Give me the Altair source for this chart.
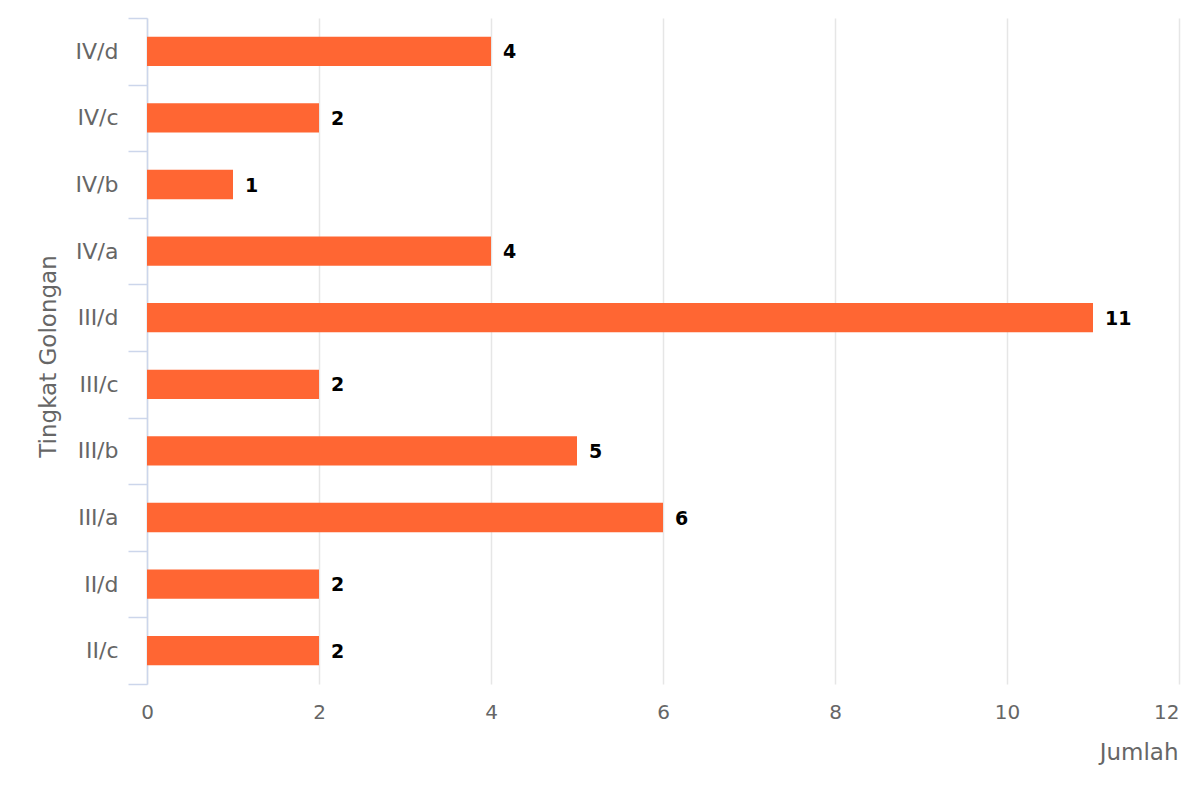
import altair as alt
import pandas as pd

categories = ["IV/d", "IV/c", "IV/b", "IV/a", "III/d", "III/c", "III/b", "III/a", "II/d", "II/c"]
values = [4, 2, 1, 4, 11, 2, 5, 6, 2, 2]
x_ticks = [0, 2, 4, 6, 8, 10, 12]

df = pd.DataFrame({"golongan": categories, "jumlah": values})

FONT = "DejaVu Sans"
W, H = 1032, 666

y_enc = alt.Y(
    "golongan:N",
    sort=categories,
    scale=alt.Scale(paddingInner=0, paddingOuter=0),
    axis=alt.Axis(
        title="Tingkat Golongan",
        tickBand="extent",
        tickSize=19,
        tickColor="#ccd6eb",
        domainColor="#ccd6eb",
        domainWidth=1.5,
        tickWidth=1.5,
        labelPadding=10,
        labelFont=FONT,
        labelFontSize=22,
        labelColor="#666666",
        titleFont=FONT,
        titleFontSize=23,
        titleFontWeight="normal",
        titleColor="#666666",
        titleAngle=270,
        titleAlign="center",
        titleBaseline="alphabetic",
        titleX=-92,
        titleY=338,
        grid=False,
    ),
)

x_enc = alt.X(
    "jumlah:Q",
    scale=alt.Scale(domain=[0, 12], nice=False),
    axis=alt.Axis(
        title="Jumlah",
        values=x_ticks,
        format="d",
        domain=False,
        ticks=False,
        grid=True,
        gridColor="#e6e6e6",
        gridWidth=1.5,
        labelPadding=18,
        labelFont=FONT,
        labelFontSize=20,
        labelColor="#666666",
        labelAlign={"condition": {"test": "datum.value == 12", "value": "right"}, "value": "center"},
        titleFont=FONT,
        titleFontSize=23,
        titleFontWeight="normal",
        titleColor="#666666",
        titleAlign="right",
        titleAnchor="end",
        titleBaseline="alphabetic",
        titleX=1031,
        titleY=75,
    ),
)

bars = alt.Chart(df).mark_bar(color="#ff6633", height={"band": 0.44}).encode(x=x_enc, y=y_enc)

labels = alt.Chart(df).mark_text(
    align="left", baseline="middle", dx=12, dy=1, font=FONT, fontSize=19, fontWeight="bold", color="#000000"
).encode(x=x_enc, y=y_enc, text="jumlah:Q")

chart = (
    alt.layer(bars, labels)
    .properties(
        width=W,
        height=H,
        background="white",
        autosize=alt.AutoSizeParams(type="none"),
        padding={"left": 139, "top": 10, "right": 10, "bottom": 100},
    )
    .configure_view(strokeWidth=0)
)

chart.save("out.html", embed_options={"renderer": "svg", "actions": False})
